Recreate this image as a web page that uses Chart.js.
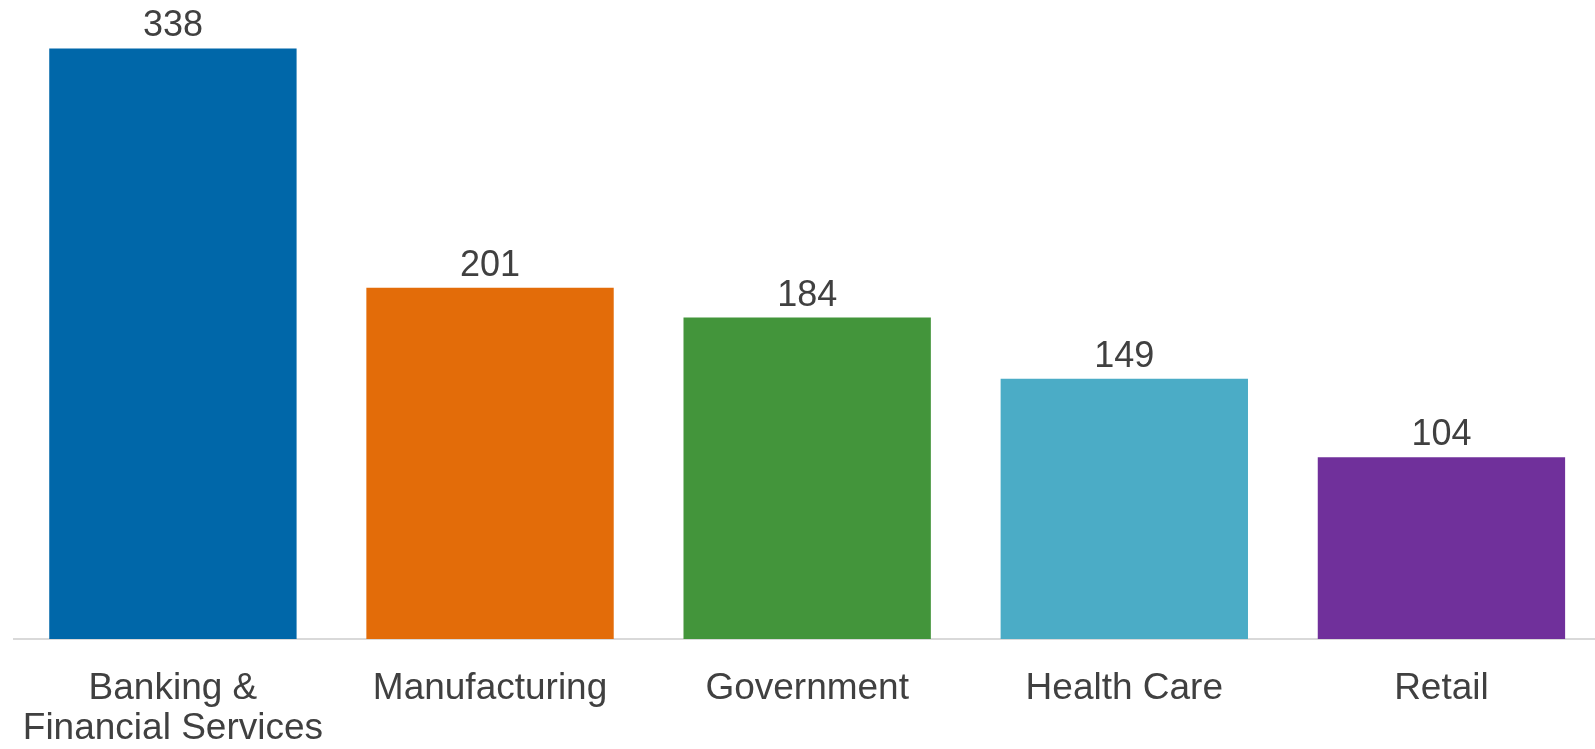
<!DOCTYPE html>
<html>
<head>
<meta charset="utf-8">
<script src="https://cdn.jsdelivr.net/npm/chart.js@4/dist/chart.umd.min.js"></script>
<style>
  body { margin: 0; background: #fff; overflow: hidden; }
  #wrap { width: 1600px; height: 749px; }
</style>
</head>
<body>
<div id="wrap"><canvas id="bars"></canvas></div>
<script>
var categories = [['Banking &', 'Financial Services'], 'Manufacturing', 'Government', 'Health Care', 'Retail'];
var values = [338, 201, 184, 149, 104];
var barColours = ['#0067a9', '#e36c09', '#43953b', '#4bacc6', '#70309b'];

// value labels above each bar
var valueLabels = {
  id: 'valueLabels',
  afterDatasetsDraw: function(chart) {
    var ctx = chart.ctx;
    var meta = chart.getDatasetMeta(0);
    ctx.save();
    ctx.font = '36px "Liberation Sans", Arial, sans-serif';
    ctx.fillStyle = '#404040';
    ctx.textAlign = 'center';
    ctx.textBaseline = 'alphabetic';
    meta.data.forEach(function(bar, i) {
      ctx.fillText(String(chart.data.datasets[0].data[i]), bar.x, bar.y - 12);
    });
    ctx.restore();
  }
};

document.addEventListener('DOMContentLoaded', function() {
  var ctx = document.getElementById('bars').getContext('2d');
  new Chart(ctx, {
    type: 'bar',
    data: {
      labels: categories,
      datasets: [{
        data: values,
        backgroundColor: barColours,
        barPercentage: 0.78,
        categoryPercentage: 1
      }]
    },
    options: {
      responsive: true,
      maintainAspectRatio: false,
      animation: false,
      layout: { padding: { left: 8, right: 0, top: 10, bottom: 0 } },
      plugins: { legend: { display: false }, tooltip: { enabled: false } },
      scales: {
        x: {
          grid: { display: false },
          border: { display: true, color: '#d9d9d9', width: 2 },
          ticks: {
            color: '#404040',
            padding: 22,
            font: { family: '"Liberation Sans", Arial, sans-serif', size: 37, lineHeight: 1.07 },
            maxRotation: 0,
            autoSkip: false
          },
          afterFit: function(scale) { scale.height = 110; }
        },
        y: {
          display: false,
          min: 0,
          max: 360
        }
      }
    },
    plugins: [valueLabels]
  });
});
</script>
</body>
</html>
